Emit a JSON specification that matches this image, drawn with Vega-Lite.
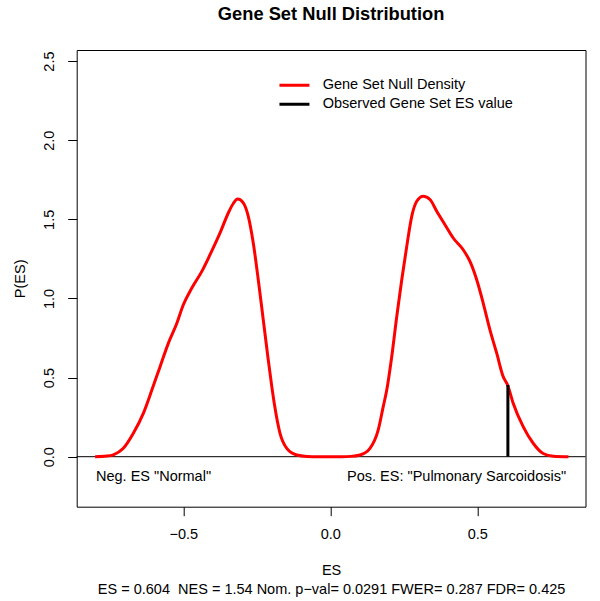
{
  "$schema": "https://vega.github.io/schema/vega-lite/v6.json",
  "autosize": "none",
  "width": 508.8,
  "height": 456.7,
  "padding": {"left": 76.7, "top": 50, "right": 14.5, "bottom": 94.3},
  "background": "white",
  "config": {
    "font": "Liberation Sans",
    "view": {"stroke": "#000000", "strokeWidth": 1},
    "axis": {
      "grid": false,
      "domain": false,
      "ticks": true,
      "tickColor": "#000000",
      "tickSize": 9,
      "tickWidth": 1,
      "labelColor": "#000000",
      "labelFont": "Liberation Sans",
      "labelFontSize": 14.5,
      "titleFont": "Liberation Sans",
      "titleFontSize": 14.5,
      "titleFontWeight": "normal",
      "titleColor": "#000000"
    },
    "legend": {"padding": 0}
  },
  "title": {
    "text": "Gene Set Null Distribution",
    "font": "Liberation Sans",
    "fontSize": 18.3,
    "fontWeight": "bold",
    "color": "#000000",
    "anchor": "middle",
    "baseline": "alphabetic",
    "offset": 11.5
  },
  "layer": [
    {
      "data": {"values": [{"zero": 0}]},
      "mark": {"type": "rule", "color": "#000000", "strokeWidth": 1},
      "encoding": {
        "y": {"field": "zero", "type": "quantitative", "title": "P(ES)"}
      }
    },
    {
      "data": {
        "values": [
          {"es": -0.800, "p": 0.000, "series": "Gene Set Null Density"},
          {"es": -0.760, "p": 0.004, "series": "Gene Set Null Density"},
          {"es": -0.738, "p": 0.012, "series": "Gene Set Null Density"},
          {"es": -0.704, "p": 0.053, "series": "Gene Set Null Density"},
          {"es": -0.670, "p": 0.148, "series": "Gene Set Null Density"},
          {"es": -0.636, "p": 0.274, "series": "Gene Set Null Density"},
          {"es": -0.607, "p": 0.421, "series": "Gene Set Null Density"},
          {"es": -0.579, "p": 0.569, "series": "Gene Set Null Density"},
          {"es": -0.551, "p": 0.716, "series": "Gene Set Null Density"},
          {"es": -0.522, "p": 0.843, "series": "Gene Set Null Density"},
          {"es": -0.500, "p": 0.960, "series": "Gene Set Null Density"},
          {"es": -0.471, "p": 1.066, "series": "Gene Set Null Density"},
          {"es": -0.437, "p": 1.171, "series": "Gene Set Null Density"},
          {"es": -0.409, "p": 1.277, "series": "Gene Set Null Density"},
          {"es": -0.375, "p": 1.414, "series": "Gene Set Null Density"},
          {"es": -0.347, "p": 1.540, "series": "Gene Set Null Density"},
          {"es": -0.330, "p": 1.600, "series": "Gene Set Null Density"},
          {"es": -0.315, "p": 1.628, "series": "Gene Set Null Density"},
          {"es": -0.296, "p": 1.604, "series": "Gene Set Null Density"},
          {"es": -0.279, "p": 1.519, "series": "Gene Set Null Density"},
          {"es": -0.262, "p": 1.350, "series": "Gene Set Null Density"},
          {"es": -0.245, "p": 1.118, "series": "Gene Set Null Density"},
          {"es": -0.228, "p": 0.865, "series": "Gene Set Null Density"},
          {"es": -0.211, "p": 0.611, "series": "Gene Set Null Density"},
          {"es": -0.199, "p": 0.443, "series": "Gene Set Null Density"},
          {"es": -0.190, "p": 0.330, "series": "Gene Set Null Density"},
          {"es": -0.171, "p": 0.148, "series": "Gene Set Null Density"},
          {"es": -0.148, "p": 0.053, "series": "Gene Set Null Density"},
          {"es": -0.114, "p": 0.011, "series": "Gene Set Null Density"},
          {"es": -0.080, "p": 0.002, "series": "Gene Set Null Density"},
          {"es": -0.040, "p": 0.000, "series": "Gene Set Null Density"},
          {"es": 0.000, "p": 0.000, "series": "Gene Set Null Density"},
          {"es": 0.040, "p": 0.000, "series": "Gene Set Null Density"},
          {"es": 0.070, "p": 0.002, "series": "Gene Set Null Density"},
          {"es": 0.101, "p": 0.011, "series": "Gene Set Null Density"},
          {"es": 0.135, "p": 0.053, "series": "Gene Set Null Density"},
          {"es": 0.163, "p": 0.169, "series": "Gene Set Null Density"},
          {"es": 0.180, "p": 0.316, "series": "Gene Set Null Density"},
          {"es": 0.192, "p": 0.421, "series": "Gene Set Null Density"},
          {"es": 0.209, "p": 0.633, "series": "Gene Set Null Density"},
          {"es": 0.226, "p": 0.886, "series": "Gene Set Null Density"},
          {"es": 0.243, "p": 1.118, "series": "Gene Set Null Density"},
          {"es": 0.260, "p": 1.329, "series": "Gene Set Null Density"},
          {"es": 0.277, "p": 1.519, "series": "Gene Set Null Density"},
          {"es": 0.294, "p": 1.614, "series": "Gene Set Null Density"},
          {"es": 0.316, "p": 1.646, "series": "Gene Set Null Density"},
          {"es": 0.339, "p": 1.625, "series": "Gene Set Null Density"},
          {"es": 0.362, "p": 1.551, "series": "Gene Set Null Density"},
          {"es": 0.390, "p": 1.466, "series": "Gene Set Null Density"},
          {"es": 0.418, "p": 1.382, "series": "Gene Set Null Density"},
          {"es": 0.452, "p": 1.308, "series": "Gene Set Null Density"},
          {"es": 0.475, "p": 1.234, "series": "Gene Set Null Density"},
          {"es": 0.498, "p": 1.118, "series": "Gene Set Null Density"},
          {"es": 0.520, "p": 0.971, "series": "Gene Set Null Density"},
          {"es": 0.543, "p": 0.802, "series": "Gene Set Null Density"},
          {"es": 0.566, "p": 0.654, "series": "Gene Set Null Density"},
          {"es": 0.588, "p": 0.506, "series": "Gene Set Null Density"},
          {"es": 0.603, "p": 0.453, "series": "Gene Set Null Density"},
          {"es": 0.622, "p": 0.338, "series": "Gene Set Null Density"},
          {"es": 0.656, "p": 0.190, "series": "Gene Set Null Density"},
          {"es": 0.690, "p": 0.085, "series": "Gene Set Null Density"},
          {"es": 0.724, "p": 0.020, "series": "Gene Set Null Density"},
          {"es": 0.759, "p": 0.003, "series": "Gene Set Null Density"},
          {"es": 0.810, "p": 0.000, "series": "Gene Set Null Density"}
        ]
      },
      "mark": {"type": "line", "strokeWidth": 3, "interpolate": "monotone"},
      "encoding": {
        "x": {
          "field": "es",
          "type": "quantitative",
          "scale": {"domain": [-0.8626, 0.868], "nice": false, "zero": false},
          "title": ["ES", "ES = 0.604\u00a0 NES = 1.54 Nom. p−val= 0.0291 FWER= 0.287 FDR= 0.425"],
          "axis": {
            "values": [-0.5, 0, 0.5],
            "format": ".1f",
            "labelPadding": 12,
            "titlePadding": 22,
            "titleLineHeight": 19
          }
        },
        "y": {
          "field": "p",
          "type": "quantitative",
          "scale": {"domain": [-0.316, 2.57], "nice": false, "zero": false},
          "title": "P(ES)",
          "axis": {
            "values": [0, 0.5, 1, 1.5, 2, 2.5],
            "format": ".1f",
            "labelAngle": -90,
            "labelAlign": "center",
            "labelBaseline": "bottom",
            "labelPadding": 11,
            "titlePadding": 14
          }
        },
        "color": {
          "field": "series",
          "type": "nominal",
          "scale": {
            "domain": ["Gene Set Null Density", "Observed Gene Set ES value"],
            "range": ["#ff0000", "#000000"]
          },
          "legend": {
            "orient": "none",
            "legendX": 210.5,
            "legendY": 28,
            "title": null,
            "symbolType": "M-3,0H3",
            "symbolSize": 100,
            "symbolStrokeWidth": 3,
            "labelFont": "Liberation Sans",
            "labelFontSize": 14.5,
            "labelColor": "#000000",
            "labelOffset": 21,
            "labelLimit": 0,
            "rowPadding": 4
          }
        }
      }
    },
    {
      "data": {"values": [{"es": 0.604, "lo": 0, "p": 0.453, "series": "Observed Gene Set ES value"}]},
      "mark": {"type": "rule", "strokeWidth": 3},
      "encoding": {
        "x": {"field": "es", "type": "quantitative", "title": ["ES", "ES = 0.604\u00a0 NES = 1.54 Nom. p−val= 0.0291 FWER= 0.287 FDR= 0.425"]},
        "y": {"field": "lo", "type": "quantitative", "title": "P(ES)"},
        "y2": {"field": "p"},
        "color": {"field": "series", "type": "nominal"}
      }
    },
    {
      "data": {"values": [{"tx": -0.797, "ty": -0.131, "label": "Neg. ES \"Normal\""}]},
      "mark": {"type": "text", "align": "left", "baseline": "middle", "font": "Liberation Sans", "fontSize": 14.5, "color": "#000000"},
      "encoding": {
        "x": {"field": "tx", "type": "quantitative", "title": ["ES", "ES = 0.604\u00a0 NES = 1.54 Nom. p−val= 0.0291 FWER= 0.287 FDR= 0.425"]},
        "y": {"field": "ty", "type": "quantitative", "title": "P(ES)"},
        "text": {"field": "label"}
      }
    },
    {
      "data": {"values": [{"tx": 0.802, "ty": -0.131, "label": "Pos. ES: \"Pulmonary Sarcoidosis\""}]},
      "mark": {"type": "text", "align": "right", "baseline": "middle", "font": "Liberation Sans", "fontSize": 14.5, "color": "#000000"},
      "encoding": {
        "x": {"field": "tx", "type": "quantitative", "title": ["ES", "ES = 0.604\u00a0 NES = 1.54 Nom. p−val= 0.0291 FWER= 0.287 FDR= 0.425"]},
        "y": {"field": "ty", "type": "quantitative", "title": "P(ES)"},
        "text": {"field": "label"}
      }
    }
  ]
}
